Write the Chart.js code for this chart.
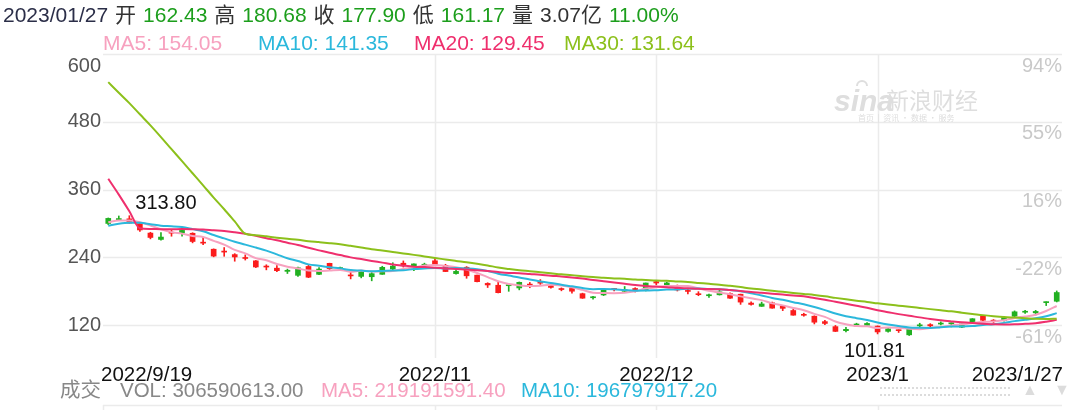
<!DOCTYPE html>
<html>
<head>
<meta charset="utf-8">
<script src="https://cdn.jsdelivr.net/npm/chart.js@4.4.0/dist/chart.umd.min.js"></script>
<style>
  html, body { margin: 0; padding: 0; background: #fff; }
  #wrap { width: 1080px; height: 410px; }
</style>
</head>
<body>
<div id="wrap"><canvas id="kChart" width="1080" height="410"></canvas></div>
<script>
// daily candles, 2022/9/19 - 2023/1/27
const dates = [
  '2022/9/19','2022/9/20','2022/9/21','2022/9/22','2022/9/23','2022/9/26','2022/9/27','2022/9/28','2022/9/29','2022/9/30',
  '2022/10/3','2022/10/4','2022/10/5','2022/10/6','2022/10/7','2022/10/10','2022/10/11','2022/10/12','2022/10/13','2022/10/14',
  '2022/10/17','2022/10/18','2022/10/19','2022/10/20','2022/10/21','2022/10/24','2022/10/25','2022/10/26','2022/10/27','2022/10/28','2022/10/31',
  '2022/11/1','2022/11/2','2022/11/3','2022/11/4','2022/11/7','2022/11/8','2022/11/9','2022/11/10','2022/11/11','2022/11/14',
  '2022/11/15','2022/11/16','2022/11/17','2022/11/18','2022/11/21','2022/11/22','2022/11/23','2022/11/25','2022/11/28','2022/11/29','2022/11/30',
  '2022/12/1','2022/12/2','2022/12/5','2022/12/6','2022/12/7','2022/12/8','2022/12/9','2022/12/12','2022/12/13','2022/12/14',
  '2022/12/15','2022/12/16','2022/12/19','2022/12/20','2022/12/21','2022/12/22','2022/12/23','2022/12/27','2022/12/28','2022/12/29','2022/12/30',
  '2023/1/3','2023/1/4','2023/1/5','2023/1/6','2023/1/9','2023/1/10','2023/1/11','2023/1/12','2023/1/13',
  '2023/1/17','2023/1/18','2023/1/19','2023/1/20','2023/1/23','2023/1/24','2023/1/25','2023/1/26','2023/1/27'
];
const opens = [
  300.09,306.91,308.29,299.86,283.09,271.83,283.84,283.08,282.76,266.15,
  254.50,250.52,245.01,239.44,233.94,223.93,220.95,215.33,208.30,224.01,210.04,229.50,219.80,208.28,206.42,205.82,210.10,219.40,229.77,225.40,226.19,
  234.05,226.04,211.36,222.60,208.65,194.02,190.78,189.90,186.00,192.77,195.88,191.51,183.96,185.05,175.85,168.63,173.57,185.06,179.96,184.99,182.43,
  197.08,191.78,189.44,181.22,175.03,172.20,173.84,176.10,174.87,159.25,153.44,159.64,154.00,146.05,139.34,136.00,126.37,117.50,110.35,120.39,119.95,
  118.47,109.11,110.51,103.00,118.96,121.07,122.09,122.56,116.55,125.70,136.56,127.26,128.68,135.87,143.00,141.91,159.97,162.43
];
const highs = [
  309.84,313.33,313.80,301.29,284.50,284.09,288.67,289.00,283.65,275.57,
  255.16,257.50,246.67,244.58,234.57,226.99,225.75,219.30,222.99,226.26,221.86,229.82,222.93,215.55,214.66,213.50,224.35,230.60,233.81,228.86,229.85,
  237.40,227.87,221.20,223.80,208.90,195.20,195.89,191.00,196.52,195.73,200.82,192.57,186.16,185.19,176.77,170.92,183.62,185.20,188.50,186.38,194.76,
  198.92,196.25,191.27,183.65,179.38,175.20,182.50,177.37,175.05,161.62,160.93,160.99,155.25,148.47,141.26,136.63,128.62,119.67,116.27,123.57,124.48,
  118.80,114.59,111.75,114.39,123.52,122.76,125.95,124.13,122.63,131.70,136.68,129.99,133.51,145.38,146.50,146.41,161.42,180.68
];
const lows = [
  297.80,305.58,300.63,285.82,272.82,270.31,277.51,277.57,265.78,262.47,
  241.01,242.01,233.27,235.35,222.02,218.00,215.00,211.51,206.22,204.16,209.45,217.25,217.78,202.00,203.80,198.59,210.00,218.20,222.85,216.35,221.94,
  227.28,214.82,210.14,203.08,196.66,186.75,177.12,180.03,182.59,186.34,192.06,185.66,180.90,176.55,167.54,166.19,172.50,180.63,179.00,178.75,180.63,
  191.80,191.11,180.55,175.33,172.22,169.06,173.36,167.52,156.91,155.31,153.28,150.04,145.82,137.66,135.89,122.26,121.02,108.76,108.24,117.50,119.75,
  104.64,107.52,107.16,101.81,117.11,114.92,120.51,117.00,115.60,125.02,127.01,124.31,127.35,134.27,141.10,138.07,154.76,161.17
];
const closes = [
  309.07,308.73,300.80,288.59,275.33,276.01,282.94,287.81,268.21,265.25,
  242.40,249.44,240.81,238.13,223.07,222.96,216.50,217.24,221.72,204.99,219.35,220.19,222.04,207.28,214.44,211.25,222.42,224.64,225.09,228.52,227.54,
  227.82,214.98,215.31,207.47,197.08,191.30,177.59,190.72,195.97,190.95,194.42,186.92,183.17,180.19,167.87,169.91,183.20,182.86,182.92,180.83,194.70,
  194.70,194.86,182.45,179.82,174.04,173.44,179.05,167.82,160.95,156.80,157.67,150.23,149.87,137.80,137.57,125.35,123.15,109.10,112.71,121.82,123.18,
  108.10,113.64,110.34,113.06,119.77,118.85,123.22,123.56,122.40,131.49,128.78,127.17,133.42,143.75,143.89,144.43,160.27,177.90
];
// closes of the 29 sessions before 2022/9/19 (unadjusted, the split was on 8/25)
const priorCloses = [
  871.27,850.00,883.07,859.89,900.09,927.96,919.69,911.99,908.61,890.00,869.74,889.36,891.29,
  296.07,288.09,284.82,277.70,275.61,277.16,270.21,274.42,283.70,289.26,299.68,304.42,292.13,302.61,303.75,303.35
];

const priceTicks = [600, 480, 360, 240, 120];
const pctTicks = ['94%', '55%', '16%', '-22%', '-61%'];
const axisDates = ['2022/9/19', '2022/11', '2022/12', '2023/1', '2023/1/27'];
const axisIdx = [0, 31, 52, 73, 90];
const monthIdx = [31, 52, 73];
const volText = '306590613.00';
const volMa5Text = '219191591.40';
const volMa10Text = '196797917.20';
const volYi = '3.07';

const UP = '#21b021';
const DOWN = '#fb1c1c';
const C_MA5 = '#f7a1bf';
const C_MA10 = '#2bb8dc';
const C_MA20 = '#ef2f6d';
const C_MA30 = '#8cc01b';
const FONT = '"Liberation Sans", Arial, "Noto Sans CJK SC", sans-serif';

const allCloses = priorCloses.concat(closes);
function movingAvg(n) {
  const off = priorCloses.length;
  return closes.map((c, i) => {
    let s = 0;
    for (let k = off + i - n + 1; k <= off + i; k++) s += allCloses[k];
    return s / n;
  });
}
const ma5 = movingAvg(5), ma10 = movingAvg(10), ma20 = movingAvg(20), ma30 = movingAvg(30);

const candleColor = closes.map((c, i) => c >= opens[i] ? UP : DOWN);

function drawRun(ctx, x, y, parts, gap) {
  parts.forEach(([t, c]) => {
    ctx.fillStyle = c;
    ctx.fillText(t, x, y);
    x += ctx.measureText(t).width + gap;
  });
}

const overlay = {
  id: 'overlay',
  beforeDatasetsDraw(chart) {
    const { ctx, chartArea: a, scales: { x, y } } = chart;
    ctx.save();
    ctx.strokeStyle = '#ebebeb';
    ctx.lineWidth = 1.5;
    priceTicks.forEach(v => {
      const py = Math.round(y.getPixelForValue(v)) + 0.5;
      ctx.beginPath(); ctx.moveTo(a.left, py); ctx.lineTo(a.right, py); ctx.stroke();
    });
    monthIdx.forEach(i => {
      const px = Math.round(x.getPixelForValue(i)) + 0.5;
      ctx.beginPath(); ctx.moveTo(px, a.top); ctx.lineTo(px, a.bottom); ctx.stroke();
    });
    // top edge of the volume panel
    ctx.beginPath(); ctx.moveTo(a.left, 405.5); ctx.lineTo(a.right, 405.5); ctx.stroke();
    [a.left].concat(monthIdx.map(i => x.getPixelForValue(i))).forEach(px => {
      px = Math.round(px) + 0.5;
      ctx.beginPath(); ctx.moveTo(px, 405); ctx.lineTo(px, 410); ctx.stroke();
    });

    // watermark
    ctx.fillStyle = '#dedede';
    ctx.font = 'italic bold 30px ' + FONT;
    ctx.textBaseline = 'alphabetic';
    ctx.fillText('sina', 834, 111);
    ctx.beginPath(); ctx.arc(862, 86, 5, Math.PI, 2 * Math.PI); ctx.lineWidth = 2; ctx.strokeStyle = '#dedede'; ctx.stroke();
    ctx.font = '23px "Noto Sans CJK SC", sans-serif';
    ctx.fillText('新浪财经', 886, 109);
    ctx.font = '8px "Noto Sans CJK SC", sans-serif';
    ctx.fillText('首页  |  资讯 · 数据 · 服务', 858, 121);
    ctx.restore();
  },
  afterDraw(chart) {
    const { ctx, chartArea: a, scales: { x, y } } = chart;
    ctx.save();
    ctx.font = '20px ' + FONT;
    ctx.textBaseline = 'middle';

    // left price labels
    ctx.textAlign = 'right';
    ctx.fillStyle = '#555';
    priceTicks.forEach((v, k) => {
      const py = y.getPixelForValue(v);
      ctx.fillText(String(v), a.left - 2, k === 0 ? py + 12 : py);
    });
    // right percent labels
    ctx.fillStyle = '#c9c9c9';
    priceTicks.forEach((v, k) => {
      ctx.fillText(pctTicks[k], a.right, y.getPixelForValue(v) + 12);
    });

    // high / low marks
    let hi = 0, lo = 0;
    highs.forEach((h, i) => { if (h > highs[hi]) hi = i; });
    lows.forEach((l, i) => { if (l < lows[lo]) lo = i; });
    ctx.fillStyle = '#111';
    ctx.textAlign = 'left';
    ctx.fillText(highs[hi].toFixed(2), x.getPixelForValue(hi) + 6, y.getPixelForValue(highs[hi]) - 12);
    ctx.textAlign = 'right';
    ctx.fillText(lows[lo].toFixed(2), x.getPixelForValue(lo) - 4, y.getPixelForValue(lows[lo]) + 16);

    // date labels
    ctx.font = '20.5px ' + FONT;
    ctx.fillStyle = '#111';
    axisIdx.forEach((i, k) => {
      let px = x.getPixelForValue(i);
      if (k === 0) { ctx.textAlign = 'left'; px = a.left - 2; }
      else if (k === axisIdx.length - 1) { ctx.textAlign = 'right'; px = a.right + 1; }
      else ctx.textAlign = 'center';
      ctx.fillText(axisDates[k], px, 375);
    });

    // header line
    const n = closes.length - 1;
    const pct = (closes[n] / closes[n - 1] - 1) * 100;
    const G = '#1c9e1c', D = '#333';
    ctx.font = '21px ' + FONT;
    ctx.textAlign = 'left';
    drawRun(ctx, 3, 16, [
      ['2023/01/27', '#2b2e48'], ['开', D], [opens[n].toFixed(2), G], ['高', D], [highs[n].toFixed(2), G],
      ['收', D], [closes[n].toFixed(2), G], ['低', D], [lows[n].toFixed(2), G],
      ['量', D], [volYi + '亿', D], [pct.toFixed(2) + '%', G]
    ], 7);

    // MA legend
    ctx.fillStyle = C_MA5; ctx.fillText('MA5: ' + ma5[n].toFixed(2), 103, 44);
    ctx.fillStyle = C_MA10; ctx.fillText('MA10: ' + ma10[n].toFixed(2), 258, 44);
    ctx.fillStyle = C_MA20; ctx.fillText('MA20: ' + ma20[n].toFixed(2), 414, 44);
    ctx.fillStyle = C_MA30; ctx.fillText('MA30: ' + ma30[n].toFixed(2), 564, 44);

    // volume line
    ctx.font = '20.5px ' + FONT;
    ctx.fillStyle = '#888'; ctx.fillText('成交', 60, 391);
    ctx.fillText('VOL: ' + volText, 120, 391);
    ctx.fillStyle = C_MA5; ctx.fillText('MA5: ' + volMa5Text, 321, 391);
    ctx.fillStyle = C_MA10; ctx.fillText('MA10: ' + volMa10Text, 521, 391);

    // scroll controls bottom right
    ctx.fillStyle = '#dcdcdc';
    for (let px = 880; px <= 1008; px += 4) {
      ctx.fillRect(px, 387, 2, 2);
      ctx.fillRect(px, 394, 2, 2);
    }
    ctx.font = '16px ' + FONT;
    ctx.textAlign = 'center';
    ctx.fillText('▲', 1030, 391);
    ctx.fillText('▼', 1062, 391);
    ctx.restore();
  }
};

const ctx = document.getElementById('kChart').getContext('2d');
const kChart = new Chart(ctx, {
  data: {
    labels: dates,
    datasets: [
      { type: 'line', label: 'MA30', data: ma30, borderColor: C_MA30, borderWidth: 2, pointRadius: 0, cubicInterpolationMode: 'monotone', order: 0 },
      { type: 'line', label: 'MA20', data: ma20, borderColor: C_MA20, borderWidth: 2, pointRadius: 0, cubicInterpolationMode: 'monotone', order: 0 },
      { type: 'line', label: 'MA10', data: ma10, borderColor: C_MA10, borderWidth: 2, pointRadius: 0, cubicInterpolationMode: 'monotone', order: 0 },
      { type: 'line', label: 'MA5', data: ma5, borderColor: C_MA5, borderWidth: 2, pointRadius: 0, cubicInterpolationMode: 'monotone', order: 0 },
      { type: 'bar', label: 'body', data: opens.map((o, i) => [o, closes[i]]), backgroundColor: candleColor,
        barThickness: 5, minBarLength: 1, grouped: false, borderSkipped: false, order: 1 },
      { type: 'bar', label: 'wick', data: lows.map((l, i) => [l, highs[i]]), backgroundColor: candleColor,
        barThickness: 1, grouped: false, borderSkipped: false, order: 2 }
    ]
  },
  options: {
    responsive: false,
    animation: false,
    events: [],
    layout: { padding: { left: 103, right: 18, top: 54, bottom: 52 } },
    plugins: { legend: { display: false }, tooltip: { enabled: false } },
    scales: {
      x: { type: 'category', offset: true, display: false },
      y: { min: 62, max: 600, display: false }
    }
  },
  plugins: [overlay]
});
</script>
</body>
</html>
